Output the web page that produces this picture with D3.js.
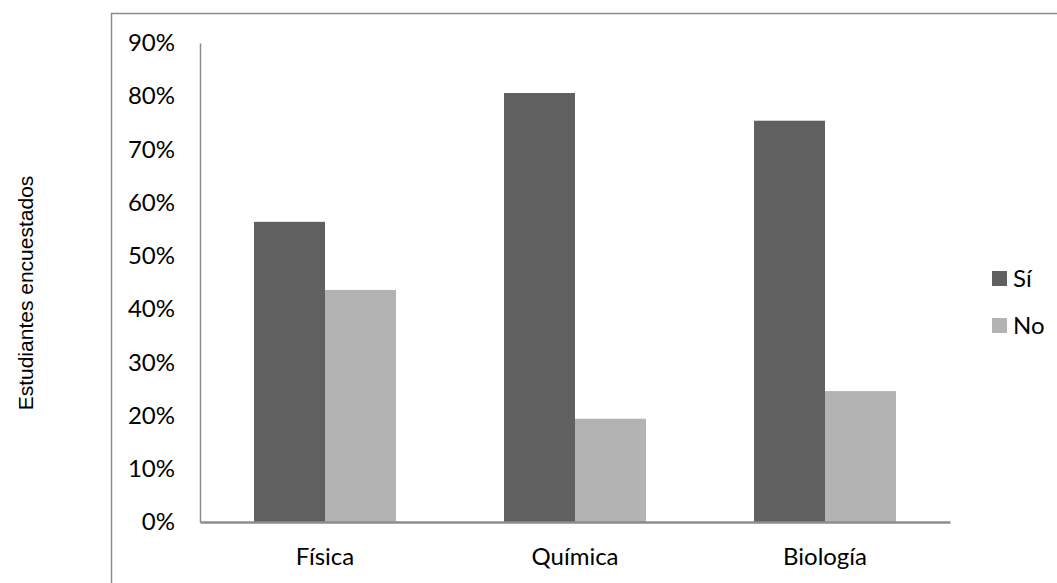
<!DOCTYPE html>
<html><head><meta charset="utf-8">
<script src="https://cdn.jsdelivr.net/npm/d3@7"></script>
<style>body{margin:0;background:#fff;} svg{display:block;}</style>
</head><body>
<svg id="c" width="1057" height="583"></svg>
<script>
const categories = ["Física", "Química", "Biología"];
const seriesNames = ["Sí", "No"];
const siValues = [0.564, 0.806, 0.754];
const noValues = [0.436, 0.194, 0.246];
const yTicks = [0, 0.1, 0.2, 0.3, 0.4, 0.5, 0.6, 0.7, 0.8, 0.9];
const colors = ["#606060", "#b3b3b3"];

(function () {
const svg = d3.select("#c");
const pl = 200, pr = 950, pt = 43, pb = 522;
const font = "Lato, 'Open Sans', sans-serif";

// outer border
svg.append("rect").attr("x", 111.5).attr("y", 13.5).attr("width", 1000).attr("height", 700)
  .attr("fill", "none").attr("stroke", "#8c8c8c").attr("stroke-width", 1.5);

const x0 = d3.scaleBand().domain(categories).range([pl, pr]).paddingInner(0.432).paddingOuter(0.216);
const x1 = d3.scaleBand().domain(seriesNames).range([0, x0.bandwidth()]);
const y = d3.scaleLinear().domain([0, 0.9]).range([pb, pt]);

const data = categories.map((c, i) => ({cat: c, vals: [siValues[i], noValues[i]]}));
const g = svg.append("g");
g.selectAll("g.cat").data(data).join("g").attr("class", "cat")
  .attr("transform", d => `translate(${x0(d.cat)},0)`)
  .selectAll("rect").data(d => d.vals.map((v, j) => ({s: seriesNames[j], v, j})))
  .join("rect")
  .attr("x", d => x1(d.s)).attr("width", x1.bandwidth())
  .attr("y", d => y(d.v)).attr("height", d => y(0) - y(d.v))
  .attr("fill", d => colors[d.j]);

// y axis
const ya = svg.append("g").attr("transform", `translate(${pl},0)`)
  .call(d3.axisLeft(y).tickValues(yTicks).tickFormat(d3.format(".0%")).tickSize(0).tickPadding(25));
ya.select(".domain").attr("stroke", "#8c8c8c").attr("stroke-width", 1.5);
ya.selectAll("text").attr("font-family", font).attr("font-size", 24).attr("fill", "#000");

// x axis
const xa = svg.append("g").attr("transform", `translate(0,${pb})`)
  .call(d3.axisBottom(x0).tickSize(0).tickPadding(26).tickSizeOuter(0));
xa.select(".domain").attr("stroke", "#8c8c8c").attr("stroke-width", 2.5);
xa.selectAll("text").attr("font-family", font).attr("font-size", 24).attr("fill", "#000");

// y title
svg.append("text").attr("transform", "translate(33,293) rotate(-90)")
  .attr("text-anchor", "middle").attr("font-family", "'Liberation Sans', Arial, sans-serif")
  .attr("font-size", 21).attr("fill", "#000").text("Estudiantes encuestados");

// legend
const lg = svg.append("g").attr("transform", "translate(992,271)");
seriesNames.forEach((s, i) => {
  const row = lg.append("g").attr("transform", `translate(0,${i * 47})`);
  row.append("rect").attr("width", 15).attr("height", 15).attr("fill", colors[i]);
  row.append("text").attr("x", 21).attr("y", 7.5).attr("dy", "0.35em")
    .attr("font-family", font).attr("font-size", 24).attr("fill", "#000").text(s);
});
})();
</script>
</body></html>
